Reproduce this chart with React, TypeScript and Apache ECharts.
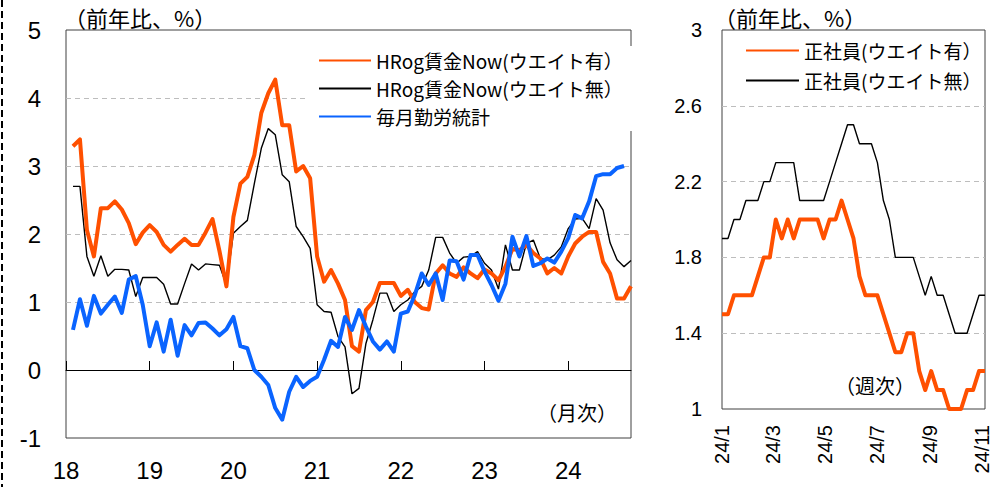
import React, { useEffect, useRef } from "react";
import * as echarts from "echarts";

// ---------- data: left chart (monthly, 2018/01 - 2024/10) ----------
const months: string[] = (() => {
  const out: string[] = [];
  for (let y = 2018; y <= 2024; y++) {
    for (let m = 1; m <= 12; m++) {
      if (y === 2024 && m > 10) break;
      out.push(`${y}-${String(m).padStart(2, "0")}`);
    }
  }
  return out;
})();

const hrogWeighted = [
  null,
  3.29, 3.39, 2.06, 1.67, 2.38, 2.38, 2.48, 2.36, 2.16, 1.85,
  2.02, 2.13, 2.03, 1.84, 1.74, 1.84, 1.93, 1.84, 1.84, 2.02,
  2.22, 1.75, 1.23, 2.25, 2.74, 2.84, 3.16, 3.78, 4.07, 4.27,
  3.6, 3.6, 2.92, 3.0, 2.82, 1.67, 1.3, 1.47, 1.27, 1.03,
  0.35, 0.27, 0.88, 1.0, 1.28, 1.28, 1.28, 1.09, 1.18, 1.0,
  0.91, 0.89, 1.42, 1.54, 1.42, 1.37, 1.51, 1.42, 1.35, 1.48,
  1.42, 1.32, 1.52, 1.78, 1.76, 1.84, 1.72, 1.64, 1.42, 1.5,
  1.42, 1.67, 1.86, 1.96, 2.03, 2.03, 1.59, 1.42, 1.05, 1.05, 1.23,
];

const hrogUnweighted = [
  null,
  2.7, 2.7, 1.67, 1.38, 1.68, 1.38, 1.48, 1.48, 1.47, 1.08,
  1.36, 1.36, 1.36, 1.26, 0.97, 0.97, 1.27, 1.56, 1.47, 1.56,
  1.55, 1.54, 1.25, 2.01, 2.11, 2.2, 2.74, 3.26, 3.55, 3.46,
  2.87, 2.77, 2.11, 1.96, 1.79, 0.96, 0.86, 0.85, 0.49, 0.34,
  -0.35, -0.27, 0.39, 0.74, 1.13, 1.13, 0.86, 0.96, 1.03, 1.15,
  1.23, 1.47, 1.95, 1.95, 1.72, 1.57, 1.66, 1.67, 1.74, 1.57,
  1.47, 1.19, 1.84, 1.47, 1.47, 1.86, 1.91, 1.64, 1.62, 1.69,
  1.81, 2.08, 2.22, 2.23, 2.08, 2.52, 2.35, 1.87, 1.62, 1.52, 1.61,
];

const maikinStats = [
  null,
  0.59, 1.04, 0.65, 1.09, 0.83, 0.96, 1.08, 0.84, 1.33, 1.38,
  0.96, 0.35, 0.7, 0.27, 0.74, 0.21, 0.66, 0.51, 0.69, 0.7,
  0.61, 0.51, 0.6, 0.78, 0.35, 0.32, 0.0, -0.1, -0.22, -0.56,
  -0.73, -0.32, -0.1, -0.25, -0.16, -0.1, 0.15, 0.43, 0.34, 0.78,
  0.59, 0.88, 0.64, 0.42, 0.3, 0.42, 0.27, 0.83, 0.86, 1.1,
  1.42, 1.25, 1.42, 1.03, 1.61, 1.6, 1.33, 1.69, 1.69, 1.45,
  1.25, 1.02, 1.27, 1.96, 1.67, 1.97, 1.53, 1.57, 1.64, 1.58,
  1.74, 1.94, 2.28, 2.23, 2.48, 2.85, 2.88, 2.88, 2.97, 3.0, null,
];

// ---------- data: right chart (weekly, 2024/01/01 - 2024/11/04) ----------
const days: string[] = (() => {
  const out: string[] = [];
  const start = Date.UTC(2024, 0, 1);
  for (let d = 0; d <= 308; d++) {
    const dt = new Date(start + d * 86400000);
    out.push(
      `${dt.getUTCFullYear()}-${String(dt.getUTCMonth() + 1).padStart(2, "0")}-${String(dt.getUTCDate()).padStart(2, "0")}`
    );
  }
  return out;
})();

const seishainWeighted = [
  1.5, 1.5, 1.6, 1.6, 1.6, 1.6, 1.7, 1.8, 1.8, 2.0,
  1.9, 2.0, 1.9, 2.0, 2.0, 2.0, 2.0, 1.9, 2.0, 2.0,
  2.1, 2.0, 1.9, 1.7, 1.6, 1.6, 1.6, 1.5, 1.4, 1.3,
  1.3, 1.4, 1.4, 1.2, 1.1, 1.2, 1.1, 1.1, 1.0, 1.0,
  1.0, 1.1, 1.1, 1.2, 1.2,
];

const seishainUnweighted = [
  1.9, 1.9, 2.0, 2.0, 2.1, 2.1, 2.1, 2.2, 2.2, 2.3,
  2.3, 2.3, 2.3, 2.1, 2.1, 2.1, 2.1, 2.1, 2.2, 2.3,
  2.4, 2.5, 2.5, 2.4, 2.4, 2.4, 2.3, 2.1, 2.0, 1.8,
  1.8, 1.8, 1.8, 1.7, 1.6, 1.7, 1.6, 1.6, 1.5, 1.4,
  1.4, 1.4, 1.5, 1.6, 1.6,
];

const weeklyToDaily = (vals: number[]) => {
  const out: (number | null)[] = days.map(() => null);
  vals.forEach((v, k) => {
    out[k * 7] = v;
  });
  return out;
};

const NUM_FONT = "'Liberation Sans', Arial, sans-serif";
const JP_FONT = "'Noto Sans CJK JP', sans-serif";
const ORANGE = "#FF5000";
const BLUE = "#0A64FF";

const S1 = "HRog賃金Now(ウエイト有）";
const S2 = "HRog賃金Now(ウエイト無）";
const S3 = "毎月勤労統計";
const S4 = "正社員(ウエイト有）";
const S5 = "正社員(ウエイト無）";

export default function App() {
  const ref = useRef<HTMLDivElement>(null);

  useEffect(() => {
    if (!ref.current) return;
    const chart = echarts.init(ref.current, null, { renderer: "svg" });
    const splitLine = {
      show: true,
      showMinLine: false,
      showMaxLine: false,
      lineStyle: { color: "#bdbdbd", width: 1, type: [5, 4] },
    };
    const option: any = {
      animation: false,
      backgroundColor: "#fff",
      grid: [
        { left: 66, top: 30, width: 565, height: 408, show: true, borderColor: "#404040", borderWidth: 1, backgroundColor: "transparent" },
        { left: 722, top: 30, width: 263, height: 379, show: true, borderColor: "#404040", borderWidth: 1, backgroundColor: "transparent" },
      ],
      xAxis: [
        {
          type: "category",
          gridIndex: 0,
          data: months,
          boundaryGap: false,
          axisLine: { show: false, onZero: false },
          axisTick: { show: false },
          splitLine: { show: false },
          axisLabel: {
            interval: 11,
            formatter: (v: string) => v.slice(2, 4),
            fontSize: 24,
            fontFamily: NUM_FONT,
            color: "#000",
            margin: 20,
          },
        },
        {
          type: "category",
          gridIndex: 0,
          data: months,
          boundaryGap: false,
          position: "bottom",
          axisLine: { show: true, onZero: true, lineStyle: { color: "#000", width: 1 } },
          axisTick: { show: true, inside: true, interval: 11, length: 9, lineStyle: { color: "#000" } },
          axisLabel: { show: false },
          splitLine: { show: false },
        },
        {
          type: "category",
          gridIndex: 1,
          data: days,
          boundaryGap: false,
          axisLine: { show: false, onZero: false },
          axisTick: { show: false },
          splitLine: { show: false },
          axisLabel: {
            interval: (_i: number, v: string) => {
              const m = parseInt(v.slice(5, 7), 10);
              return v.slice(8, 10) === "01" && m % 2 === 1;
            },
            formatter: (v: string) => `24/${parseInt(v.slice(5, 7), 10)}`,
            rotate: 90,
            fontSize: 20,
            fontFamily: NUM_FONT,
            color: "#000",
            margin: 16,
          },
        },
      ],
      yAxis: [
        {
          type: "value",
          gridIndex: 0,
          min: -1,
          max: 5,
          interval: 1,
          axisLine: { show: false },
          axisTick: { show: false },
          axisLabel: { fontSize: 24, fontFamily: NUM_FONT, color: "#000", margin: 25 },
          splitLine,
        },
        {
          type: "value",
          gridIndex: 1,
          min: 1,
          max: 3,
          interval: 0.4,
          axisLine: { show: false },
          axisTick: { show: false },
          axisLabel: {
            fontSize: 20,
            fontFamily: NUM_FONT,
            color: "#000",
            margin: 20,
            formatter: (v: number) => String(Math.round(v * 10) / 10),
          },
          splitLine,
        },
      ],
      legend: [
        {
          data: [S1, S2, S3],
          orient: "vertical",
          left: 306,
          top: 46,
          itemWidth: 52,
          itemHeight: 14,
          itemGap: 9,
          padding: [5, 10, 5, 12],
          backgroundColor: "#fff",
          selectedMode: false,
          itemStyle: { opacity: 0 },
          textStyle: { fontSize: 19, fontFamily: JP_FONT, color: "#000" },
        },
        {
          data: [S4, S5],
          orient: "vertical",
          left: 740,
          top: 36,
          itemWidth: 53,
          itemHeight: 14,
          itemGap: 11,
          padding: 5,
          selectedMode: false,
          itemStyle: { opacity: 0 },
          textStyle: { fontSize: 19, fontFamily: JP_FONT, color: "#000" },
        },
      ],
      series: [
        {
          name: S2, type: "line", xAxisIndex: 0, yAxisIndex: 0, data: hrogUnweighted,
          symbol: "none", lineStyle: { color: "#000", width: 1.4 }, itemStyle: { color: "#000" },
        },
        {
          name: S1, type: "line", xAxisIndex: 0, yAxisIndex: 0, data: hrogWeighted,
          symbol: "none", lineStyle: { color: ORANGE, width: 4, join: "round" }, itemStyle: { color: ORANGE },
        },
        {
          name: S3, type: "line", xAxisIndex: 0, yAxisIndex: 0, data: maikinStats,
          symbol: "none", lineStyle: { color: BLUE, width: 4, join: "round" }, itemStyle: { color: BLUE },
        },
        {
          name: S5, type: "line", xAxisIndex: 2, yAxisIndex: 1, data: weeklyToDaily(seishainUnweighted),
          connectNulls: true, symbol: "none", lineStyle: { color: "#000", width: 1.4 }, itemStyle: { color: "#000" },
        },
        {
          name: S4, type: "line", xAxisIndex: 2, yAxisIndex: 1, data: weeklyToDaily(seishainWeighted),
          connectNulls: true, symbol: "none", lineStyle: { color: ORANGE, width: 4, join: "round" }, itemStyle: { color: ORANGE },
        },
      ],
      graphic: [
        { type: "line", shape: { x1: 2, y1: 0, x2: 2, y2: 487 }, style: { stroke: "#000", lineWidth: 2, lineDash: [7, 4] } },
        { type: "text", x: 64, y: 17, style: { text: "（前年比、%）", fontSize: 22, fontFamily: JP_FONT, fill: "#000", verticalAlign: "middle" } },
        { type: "text", x: 714, y: 17, style: { text: "（前年比、%）", fontSize: 22, fontFamily: JP_FONT, fill: "#000", verticalAlign: "middle" } },
        { type: "text", x: 537, y: 412, style: { text: "（月次）", fontSize: 20, fontFamily: JP_FONT, fill: "#000", verticalAlign: "middle" } },
        { type: "text", x: 835, y: 385, style: { text: "（週次）", fontSize: 20, fontFamily: JP_FONT, fill: "#000", verticalAlign: "middle" } },
      ],
    };
    chart.setOption(option);
    return () => chart.dispose();
  }, []);

  return (
    <div
      ref={ref}
      style={{ width: 995, height: 487, position: "absolute", left: 0, top: 0 }}
    />
  );
}
